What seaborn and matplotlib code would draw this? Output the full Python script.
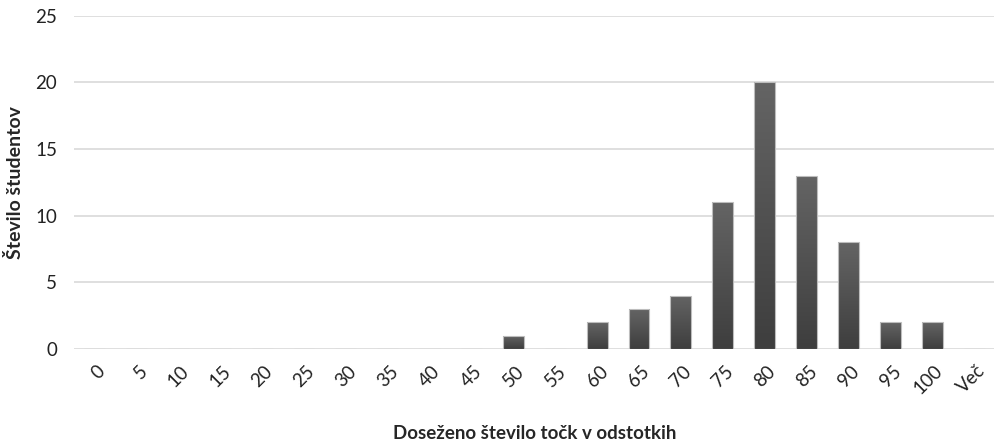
import numpy as np
import pandas as pd
import matplotlib
matplotlib.use("Agg")
import matplotlib.pyplot as plt
import matplotlib.transforms as mtransforms
import seaborn as sns

categories = ["0", "5", "10", "15", "20", "25", "30", "35", "40", "45", "50",
              "55", "60", "65", "70", "75", "80", "85", "90", "95", "100", "Več"]
counts = [0, 0, 0, 0, 0, 0, 0, 0, 0, 0, 1,
          0, 2, 3, 4, 11, 20, 13, 8, 2, 2, 0]

sns.set_style("white")
plt.rcParams['font.family'] = ['Lato', 'DejaVu Sans']

df = pd.DataFrame({"kategorija": categories, "stevilo": counts})

fig = plt.figure(figsize=(9.95, 4.41), dpi=100)
ax = fig.add_axes([0.074, 0.209, 0.926, 0.755])

sns.barplot(data=df, x="kategorija", y="stevilo", color="#555555",
            width=0.5, edgecolor="#bdbdbd", linewidth=0.8, ax=ax, zorder=3)

# vertical gradient in the bars (lighter top, darker bottom)
grad = np.linspace(0, 1, 100).reshape(-1, 1)
cmap = matplotlib.colors.LinearSegmentedColormap.from_list("g", ["#3e3e3e", "#646464"])
for p in ax.patches:
    h = p.get_height()
    if h <= 0:
        continue
    x0 = p.get_x()
    w = p.get_width()
    im = ax.imshow(grad, extent=[x0, x0 + w, 0, h], origin="lower", cmap=cmap,
                   aspect="auto", zorder=3.5)
    im.set_clip_path(p)
    p.set_facecolor("none")
    p.set_zorder(4)

ax.set_xlim(-0.5, len(categories) - 0.5)
ax.set_ylim(0, 25)
ax.set_yticks([0, 5, 10, 15, 20, 25])
ax.yaxis.grid(True, color="#d9d9d9", linewidth=1.2, zorder=0)
ax.set_axisbelow(True)
for s in ax.spines.values():
    s.set_visible(False)
ax.tick_params(axis="both", length=0, labelsize=13.5, colors="#222222")
ax.tick_params(axis="y", pad=12)
ax.set_xticks(range(len(categories)))
ax.set_xticklabels(categories, rotation=45, ha="right", va="center",
                   rotation_mode="anchor")
ax.tick_params(axis="x", pad=14)
shift = mtransforms.ScaledTranslation(8 / 100, 0, fig.dpi_scale_trans)
for lab in ax.get_xticklabels():
    lab.set_transform(lab.get_transform() + shift)

ax.set_xlabel("Doseženo število točk v odstotkih", fontsize=13.5, fontweight="bold",
              labelpad=20)
ax.set_ylabel("Število študentov", fontsize=14, fontweight="bold", labelpad=8)

fig.savefig("out.png", dpi=100)
